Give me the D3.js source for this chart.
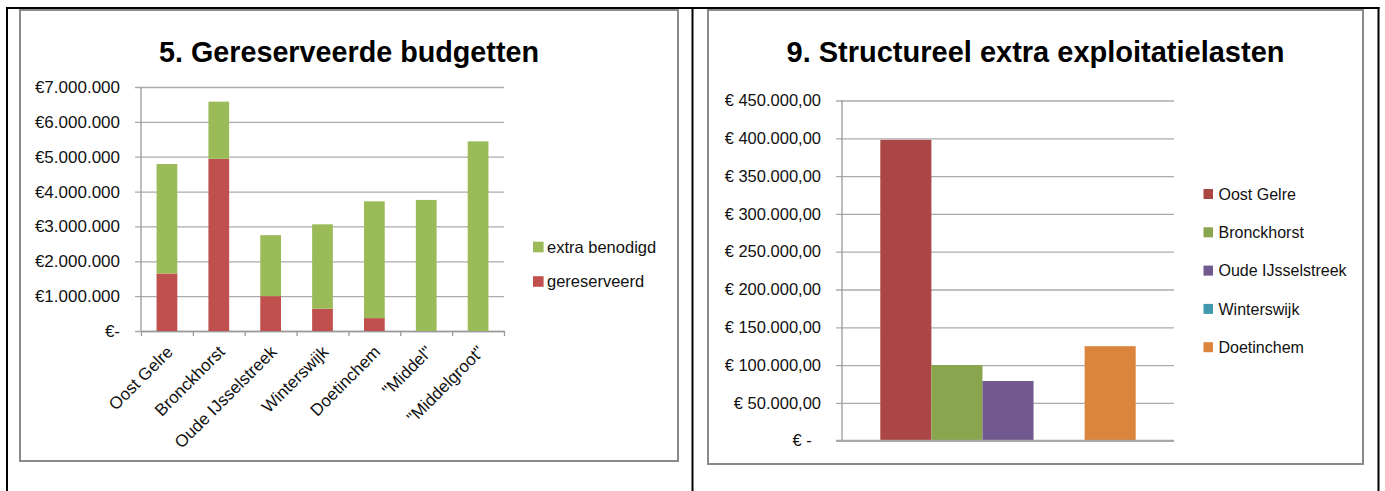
<!DOCTYPE html>
<html>
<head>
<meta charset="utf-8">
<script src="https://cdn.jsdelivr.net/npm/d3@7"></script>
<style>
  body { margin: 0; background: #fff; }
  text { font-family: "Liberation Sans", Arial, sans-serif; fill: #111; }
  .chart-title { font-weight: bold; fill: #000; }
  .grid line { stroke: #ababab; stroke-width: 1.3; }
  .axis path, .axis line { stroke: #9a9a9a; stroke-width: 1.3; }
  .frame { fill: #fff; stroke: #8a8a8a; stroke-width: 2; }
  .table-line { stroke: #000; stroke-width: 2; }
</style>
</head>
<body>
<svg id="page" width="1385" height="491"></svg>
<script>
// 5. Gereserveerde budgetten (stacked)
const budgetCategories = ['Oost Gelre', 'Bronckhorst', 'Oude IJsselstreek', 'Winterswijk', 'Doetinchem', '"Middel"', '"Middelgroot"'];
const reserved = [1650000, 4940000, 1000000, 640000, 370000, 0, 0];
const extraNeeded = [3140000, 1640000, 1750000, 2420000, 3350000, 3760000, 5440000];
const budgetTicks = [0, 1000000, 2000000, 3000000, 4000000, 5000000, 6000000, 7000000];
const budgetSeries = ['extra benodigd', 'gereserveerd'];

// 9. Structureel extra exploitatielasten (one category, one bar per municipality)
const loadSeries = ['Oost Gelre', 'Bronckhorst', 'Oude IJsselstreek', 'Winterswijk', 'Doetinchem'];
const loadValues = [398000, 100000, 79000, 0, 125000];
const loadTicks = [0, 50000, 100000, 150000, 200000, 250000, 300000, 350000, 400000, 450000];

const budgetColors = {'extra benodigd': '#9bbb59', 'gereserveerd': '#c0504d'};
const loadColors = ['#aa4643', '#89a54e', '#71588f', '#4198af', '#db843d'];

const nl = d3.formatLocale({decimal: ',', thousands: '.', grouping: [3], currency: ['€', '']});
const fmtWhole = nl.format(',');
const fmtCents = nl.format(',.2f');

const svg = d3.select('#page');

// Table borders around the two cells
svg.append('line').attr('class', 'table-line').attr('x1', 6).attr('x2', 1379.5).attr('y1', 8).attr('y2', 8);
[7, 692.5, 1378.5].forEach(x => {
  svg.append('line').attr('class', 'table-line').attr('x1', x).attr('x2', x).attr('y1', 7).attr('y2', 491);
});

function drawFrame(cfg) {
  svg.append('rect').attr('class', 'frame')
      .attr('x', cfg.frame.x).attr('y', cfg.frame.y)
      .attr('width', cfg.frame.w).attr('height', cfg.frame.h);

  svg.append('text')
      .attr('class', 'chart-title')
      .attr('x', cfg.frame.x + cfg.frame.w / 2)
      .attr('y', cfg.titleY)
      .attr('text-anchor', 'middle')
      .attr('font-size', 30)
      .attr('textLength', cfg.titleWidth)
      .attr('lengthAdjust', 'spacingAndGlyphs')
      .text(cfg.title);
}

function drawYAxis(g, y, cfg, width, fmt) {
  // gridlines plus the little tick stubs left of the axis
  const axis = g.append('g')
      .attr('class', 'grid')
      .call(d3.axisLeft(y).tickValues(cfg.ticks).tickFormat(fmt)
        .tickSize(-width).tickSizeOuter(0).tickPadding(cfg.labelGap));
  axis.select('.domain').remove();
  axis.selectAll('line').attr('x1', -6);
  axis.selectAll('text').attr('font-size', cfg.yFont).style('fill', '#111');

  g.append('line')
      .attr('class', 'axis-line')
      .attr('x1', 0).attr('x2', 0)
      .attr('y1', y.range()[1]).attr('y2', y.range()[0])
      .attr('stroke', '#9a9a9a').attr('stroke-width', 1.3);
}

// ---------- chart 5 ----------
(function budgetChart() {
  const cfg = {
    frame: {x: 20, y: 10, w: 658, h: 451},
    title: '5. Gereserveerde budgetten', titleY: 62, titleWidth: 380,
    plot: {left: 141, right: 504, top: 87, bottom: 331},
    ticks: budgetTicks, labelGap: 21, yFont: 17
  };
  drawFrame(cfg);

  const width = cfg.plot.right - cfg.plot.left;
  const height = cfg.plot.bottom - cfg.plot.top;
  const g = svg.append('g').attr('transform', `translate(${cfg.plot.left},${cfg.plot.top})`);

  const x = d3.scaleBand().domain(budgetCategories).range([0, width]).paddingInner(0.6).paddingOuter(0.3);
  const y = d3.scaleLinear().domain([0, d3.max(budgetTicks)]).range([height, 0]);

  drawYAxis(g, y, cfg, width, d => d === 0 ? '€-' : '€' + fmtWhole(d));

  // category tick marks between the bars
  const xEdges = d3.scaleLinear().domain([0, budgetCategories.length]).range([0, width]);
  g.append('g')
      .attr('class', 'axis')
      .attr('transform', `translate(0,${height})`)
      .call(d3.axisBottom(xEdges).tickValues(d3.range(budgetCategories.length + 1)).tickFormat('').tickSize(5).tickSizeOuter(0));

  const rows = budgetCategories.map((c, i) => ({category: c, 'gereserveerd': reserved[i], 'extra benodigd': extraNeeded[i]}));
  const stacked = d3.stack().keys(['gereserveerd', 'extra benodigd'])(rows);

  g.selectAll('.layer')
      .data(stacked)
    .join('g')
      .attr('class', 'layer')
      .attr('fill', d => budgetColors[d.key])
    .selectAll('rect')
      .data(d => d)
    .join('rect')
      .attr('x', d => x(d.data.category))
      .attr('width', x.bandwidth())
      .attr('y', d => y(d[1]))
      .attr('height', d => y(d[0]) - y(d[1]));

  // rotated category labels
  g.selectAll('.x-label')
      .data(budgetCategories)
    .join('text')
      .attr('class', 'x-label')
      .attr('font-size', 17)
      .attr('text-anchor', 'end')
      .attr('transform', d => `translate(${x(d) + x.bandwidth() / 2 + 7},${height + 22}) rotate(-45)`)
      .text(d => d);

  // legend
  const legend = svg.append('g').attr('transform', 'translate(533,247)');
  const items = legend.selectAll('.legend-item')
      .data(budgetSeries)
    .join('g')
      .attr('class', 'legend-item')
      .attr('transform', (d, i) => `translate(0,${i * 34.5})`);
  items.append('rect')
      .attr('y', -5.3).attr('width', 10.6).attr('height', 10.6)
      .attr('fill', d => budgetColors[d]);
  items.append('text')
      .attr('x', 14).attr('dy', '0.36em')
      .attr('font-size', 16.5)
      .text(d => d);
})();

// ---------- chart 9 ----------
(function loadChart() {
  const cfg = {
    frame: {x: 708, y: 10, w: 655, h: 454},
    title: '9. Structureel extra exploitatielasten', titleY: 62, titleWidth: 498,
    plot: {left: 842, right: 1174, top: 100.5, bottom: 440.7},
    ticks: loadTicks, labelGap: 21, yFont: 16.5
  };
  drawFrame(cfg);

  const width = cfg.plot.right - cfg.plot.left;
  const height = cfg.plot.bottom - cfg.plot.top;
  const g = svg.append('g').attr('transform', `translate(${cfg.plot.left},${cfg.plot.top})`);

  const x = d3.scaleBand().domain(loadSeries).range([0, width]).paddingInner(0).paddingOuter(0.75);
  const y = d3.scaleLinear().domain([0, d3.max(loadTicks)]).range([height, 0]);

  drawYAxis(g, y, cfg, width, d => d === 0 ? '€ -\u00a0\u00a0' : '€ ' + fmtCents(d));

  g.selectAll('.bar')
      .data(loadSeries)
    .join('rect')
      .attr('class', 'bar')
      .attr('x', d => x(d))
      .attr('width', x.bandwidth())
      .attr('y', (d, i) => y(loadValues[i]))
      .attr('height', (d, i) => height - y(loadValues[i]))
      .attr('fill', (d, i) => loadColors[i]);

  // baseline drawn over the bars
  g.append('line')
      .attr('x1', -6).attr('x2', width)
      .attr('y1', y(0)).attr('y2', y(0))
      .attr('stroke', '#a6a6a6').attr('stroke-width', 2);

  const legend = svg.append('g').attr('transform', 'translate(1203.5,194)');
  const items = legend.selectAll('.legend-item')
      .data(loadSeries)
    .join('g')
      .attr('class', 'legend-item')
      .attr('transform', (d, i) => `translate(0,${i * 38.3})`);
  items.append('rect')
      .attr('y', -5).attr('width', 9.5).attr('height', 10)
      .attr('fill', (d, i) => loadColors[i]);
  items.append('text')
      .attr('x', 15).attr('dy', '0.36em')
      .attr('font-size', 16)
      .text(d => d);
})();
</script>
</body>
</html>
